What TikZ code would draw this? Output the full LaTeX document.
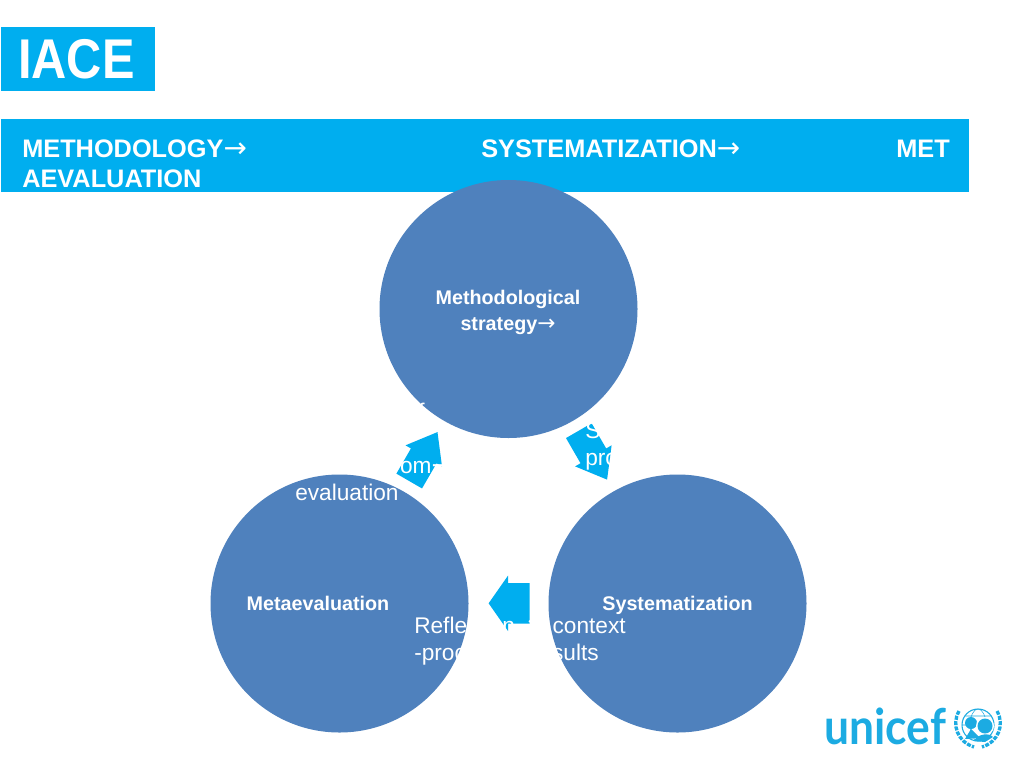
\documentclass[tikz,border=0pt]{standalone}
\usepackage{fontspec}
\setmainfont{Liberation Sans}
\newfontfamily\arrowfont{DejaVu Sans}
\newfontfamily\logofont{Lato}
\usetikzlibrary{positioning, shapes.arrows}
\definecolor{colorBanner}{HTML}{00AEEF}
\definecolor{colorCircle}{HTML}{4F81BD}
\definecolor{colorLogo}{HTML}{1CABE2}
\newcommand{\arw}{\scalebox{1.1}{\arrowfont\mdseries\symbol{"2192}}}
\tikzset{
  stage/.style={circle, fill=colorCircle, minimum size=193.5pt, inner sep=0pt},
  stagetext/.style={text=white, inner sep=0pt, align=center, font=\bfseries\fontsize{14.8}{20}\selectfont},
  flow/.style={single arrow, fill=colorBanner, inner xsep=0pt, single arrow head indent=0pt, anchor=tip},
  flowside/.style={flow, inner ysep=10.9pt, minimum height=42.4pt, single arrow head extend=4.7pt, single arrow tip angle=75},
  head/.style={anchor=base west, text=white, inner sep=0pt, font=\bfseries\fontsize{19}{23}\selectfont},
  note/.style={anchor=base west, text=white, inner sep=0pt, font=\fontsize{17}{20}\selectfont},
}
\begin{document}
\begin{tikzpicture}[x=0.75pt, y=-0.75pt]
\useasboundingbox (0,0) rectangle (1024,768);
\fill[white] (0,0) rectangle (1024,768);
% header
\node[fill=colorBanner, minimum width=115.5pt, minimum height=48pt, inner sep=0pt, anchor=north west] (tag) at (1,27) {};
\node[anchor=base west, text=white, inner sep=0pt, font=\bfseries\fontsize{42}{42}\selectfont] (tagtext) at (18,78) {\scalebox{.87}[1]{IACE}};
\node[fill=colorBanner, minimum width=726pt, minimum height=54.75pt, inner sep=0pt, anchor=north west] (banner) at (1,119) {};
\node[head] (b1) at (22,157) {METHODOLOGY\arw};
\node[head] (b2) at (481,157) {SYSTEMATIZATION\arw};
\node[head] (b3) at (896,157) {MET};
\node[head] (b4) at (22,187) {AEVALUATION};
% arrows
\node[flowside, rotate=60] (a1) at (437.7,431.7) {};
\node[flowside, rotate=-60] (a2) at (607.3,480) {};
\node[flow, rotate=180, inner ysep=15pt, minimum height=30.8pt, single arrow head extend=5.6pt, single arrow tip angle=110] (a3) at (488.3,603.3) {};
% circles
\node[stage] (method) at (508.5,309) {};
\node[stage] (meta) at (339.5,603.5) {};
\node[stage] (syst) at (677.5,603.5) {};
\node[stagetext] (methodtext) at (508,312.5) {Methodological\\strategy\arw};
\node[stagetext] (metatext) at (318,603.5) {Metaevaluation};
\node[stagetext] (systtext) at (677.5,605) {Systematization};
% texts over the arrows
\node[note] (n1) at (418,419) {f};
\node[note] (n2) at (386,473) {from\arw};
\node[note] (n3) at (295,500) {evaluation};
\node[note] (n4) at (585,438) {S};
\node[note] (n5) at (585,465) {pro};
\node[note] (n6) at (414,633) {Reflection\arw\hspace{12.5pt}context};
\node[note] (n7) at (414,660) {-process\hspace{8pt} - results};
% logo
\node[anchor=base west, text=colorLogo, inner sep=0pt, font=\logofont\bfseries\fontsize{37}{37}\selectfont] (logo) at (824,744) {\scalebox{.9}[1]{unicef}};
\begin{scope}[colorLogo]
\draw[line width=.8pt] (978,725) circle (16);
\draw[line width=.4pt] (978,725) ellipse (8 and 16) (962,725) -- (994,725) (965,716) -- (991,716);
\fill (971,723) circle (6) (965,739) -- (971,729) -- (980,738) -- cycle;
\fill[white] (985,726) circle (9);
\fill (985,726) circle (7.5) (974,741) .. controls (978,733) and (990,733) .. (993,737) -- (985,742) -- cycle;
\draw[line width=2.5pt, dash pattern=on 3pt off 1pt] (959,711) .. controls (951,725) and (958,742) .. (974,747);
\draw[line width=2.5pt, dash pattern=on 3pt off 1pt] (997,711) .. controls (1005,725) and (998,742) .. (982,747);
\end{scope}
\end{tikzpicture}
\end{document}
